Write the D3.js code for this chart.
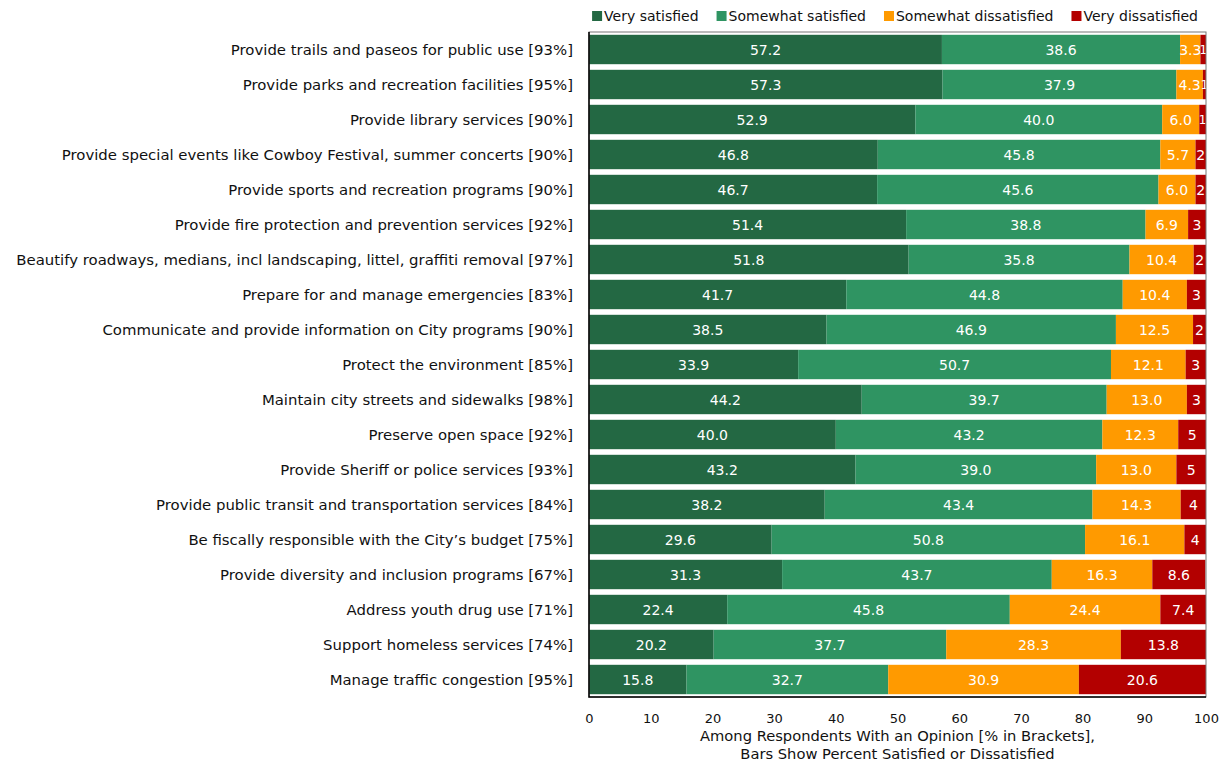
<!DOCTYPE html>
<html>
<head>
<meta charset="utf-8">
<script src="https://cdn.jsdelivr.net/npm/d3@7"></script>
<style>
  html, body { margin: 0; padding: 0; background: #fff; }
  svg { display: block; font-family: "DejaVu Sans", "Noto Sans", sans-serif; }
</style>
</head>
<body>
<svg id="chart" width="1224" height="766"></svg>
<script>
// Survey items, top to bottom, with the share of respondents holding an opinion
const categories = [
  "Provide trails and paseos for public use [93%]",
  "Provide parks and recreation facilities [95%]",
  "Provide library services [90%]",
  "Provide special events like Cowboy Festival, summer concerts [90%]",
  "Provide sports and recreation programs [90%]",
  "Provide fire protection and prevention services [92%]",
  "Beautify roadways, medians, incl landscaping, littel, graffiti removal [97%]",
  "Prepare for and manage emergencies [83%]",
  "Communicate and provide information on City programs [90%]",
  "Protect the environment [85%]",
  "Maintain city streets and sidewalks [98%]",
  "Preserve open space [92%]",
  "Provide Sheriff or police services [93%]",
  "Provide public transit and transportation services [84%]",
  "Be fiscally responsible with the City\u2019s budget [75%]",
  "Provide diversity and inclusion programs [67%]",
  "Address youth drug use [71%]",
  "Support homeless services [74%]",
  "Manage traffic congestion [95%]"
];

const seriesNames = ["Very satisfied", "Somewhat satisfied", "Somewhat dissatisfied", "Very dissatisfied"];

const verySatisfied       = [57.2, 57.3, 52.9, 46.8, 46.7, 51.4, 51.8, 41.7, 38.5, 33.9, 44.2, 40.0, 43.2, 38.2, 29.6, 31.3, 22.4, 20.2, 15.8];
const somewhatSatisfied   = [38.6, 37.9, 40.0, 45.8, 45.6, 38.8, 35.8, 44.8, 46.9, 50.7, 39.7, 43.2, 39.0, 43.4, 50.8, 43.7, 45.8, 37.7, 32.7];
const somewhatDissatisfied= [3.3, 4.3, 6.0, 5.7, 6.0, 6.9, 10.4, 10.4, 12.5, 12.1, 13.0, 12.3, 13.0, 14.3, 16.1, 16.3, 24.4, 28.3, 30.9];
const veryDissatisfied    = [0.9, 0.5, 1.1, 1.7, 1.7, 2.9, 2.0, 3.1, 2.1, 3.3, 3.1, 4.5, 4.8, 4.1, 3.5, 8.6, 7.4, 13.8, 20.6];

const xTicks = [0, 10, 20, 30, 40, 50, 60, 70, 80, 90, 100];
const axisTitle = ["Among Respondents With an Opinion [% in Brackets],", "Bars Show Percent Satisfied or Dissatisfied"];

const colors = ["#236843", "#2f9462", "#ff9a00", "#b30000"];

const svg = d3.select("#chart");
const plot = { left: 589, right: 1206, top: 32, bottom: 697 };

// Row records for the stack layout
const rows = categories.map((c, i) => ({
  category: c,
  "Very satisfied": verySatisfied[i],
  "Somewhat satisfied": somewhatSatisfied[i],
  "Somewhat dissatisfied": somewhatDissatisfied[i],
  "Very dissatisfied": veryDissatisfied[i]
}));

const stacked = d3.stack().keys(seriesNames)(rows);

const x = d3.scaleLinear().domain([0, 100]).range([plot.left, plot.right]);
const y = d3.scaleBand().domain(categories).range([plot.top, plot.bottom])
  .paddingInner(0.16).paddingOuter(0.08);
const color = d3.scaleOrdinal().domain(seriesNames).range(colors);

// Stacked segments
const layers = svg.append("g").selectAll("g")
  .data(stacked).join("g")
  .attr("fill", d => color(d.key));

layers.selectAll("rect")
  .data(d => d.map(p => ({ key: d.key, p })))
  .join("rect")
  .attr("x", d => x(d.p[0]))
  .attr("y", d => y(d.p.data.category))
  .attr("width", d => x(d.p[1]) - x(d.p[0]))
  .attr("height", y.bandwidth());

// Value labels in each segment; narrow end segments show whole numbers
const fmt1 = d3.format(".1f");
layers.selectAll("text")
  .data(d => d.map(p => ({ key: d.key, p })))
  .join("text")
  .attr("x", d => (x(d.p[0]) + x(d.p[1])) / 2)
  .attr("y", d => y(d.p.data.category) + y.bandwidth() / 2 + 0.5)
  .attr("dy", "0.36em")
  .attr("text-anchor", "middle")
  .attr("fill", "#fff")
  .attr("font-size", d => (d.key === "Very dissatisfied" && d.p.data[d.key] < 1.5) ? 12 : 14)
  .text(d => {
    const raw = d.p.data[d.key];
    if (d.key === "Very dissatisfied" && raw < 5) return String(Math.round(raw));
    return fmt1(raw);
  });

// Plot frame
svg.append("rect")
  .attr("x", plot.left).attr("y", plot.top)
  .attr("width", plot.right - plot.left).attr("height", plot.bottom - plot.top)
  .attr("fill", "none").attr("stroke", "#777").attr("stroke-width", 1);
svg.append("path")
  .attr("d", `M${plot.left},${plot.top}V${plot.bottom}H${plot.right}`)
  .attr("fill", "none").attr("stroke", "#000").attr("stroke-width", 1.5);

// Category axis
const yAxis = svg.append("g")
  .attr("transform", `translate(${plot.left},0.5)`)
  .call(d3.axisLeft(y).tickSize(0).tickPadding(16));
yAxis.attr("font-family", null).attr("font-size", null);
yAxis.select(".domain").remove();
yAxis.selectAll("text").attr("font-size", 14.9).attr("fill", "#111");

// Value axis
const xAxis = svg.append("g")
  .attr("transform", `translate(0,${plot.bottom})`)
  .call(d3.axisBottom(x).tickValues(xTicks).tickSize(0).tickPadding(17).tickFormat(d3.format("d")));
xAxis.attr("font-family", null).attr("font-size", null);
xAxis.select(".domain").remove();
xAxis.selectAll("text").attr("font-size", 13).attr("fill", "#111");

svg.append("g").selectAll("text")
  .data(axisTitle).join("text")
  .attr("x", (plot.left + plot.right) / 2)
  .attr("y", (d, i) => 741 + i * 18)
  .attr("text-anchor", "middle")
  .attr("font-size", 14.7)
  .attr("fill", "#111")
  .text(d => d);

// Legend, right-aligned above the plot
const legend = svg.append("g");
const items = legend.selectAll("g").data(seriesNames).join("g");
items.append("rect").attr("width", 10).attr("height", 10).attr("y", 11).attr("fill", d => color(d));
items.append("text").attr("x", 12).attr("y", 16).attr("dy", "0.36em")
  .attr("font-size", 14).attr("fill", "#111").text(d => d);
let widths = [];
items.each(function () { widths.push(this.getBBox().width); });
const gap = 18;
const total = d3.sum(widths) + gap * (widths.length - 1);
let cx = 1198 - total;
items.attr("transform", (d, i) => { const t = `translate(${cx},0)`; cx += widths[i] + gap; return t; });
</script>
</body>
</html>
